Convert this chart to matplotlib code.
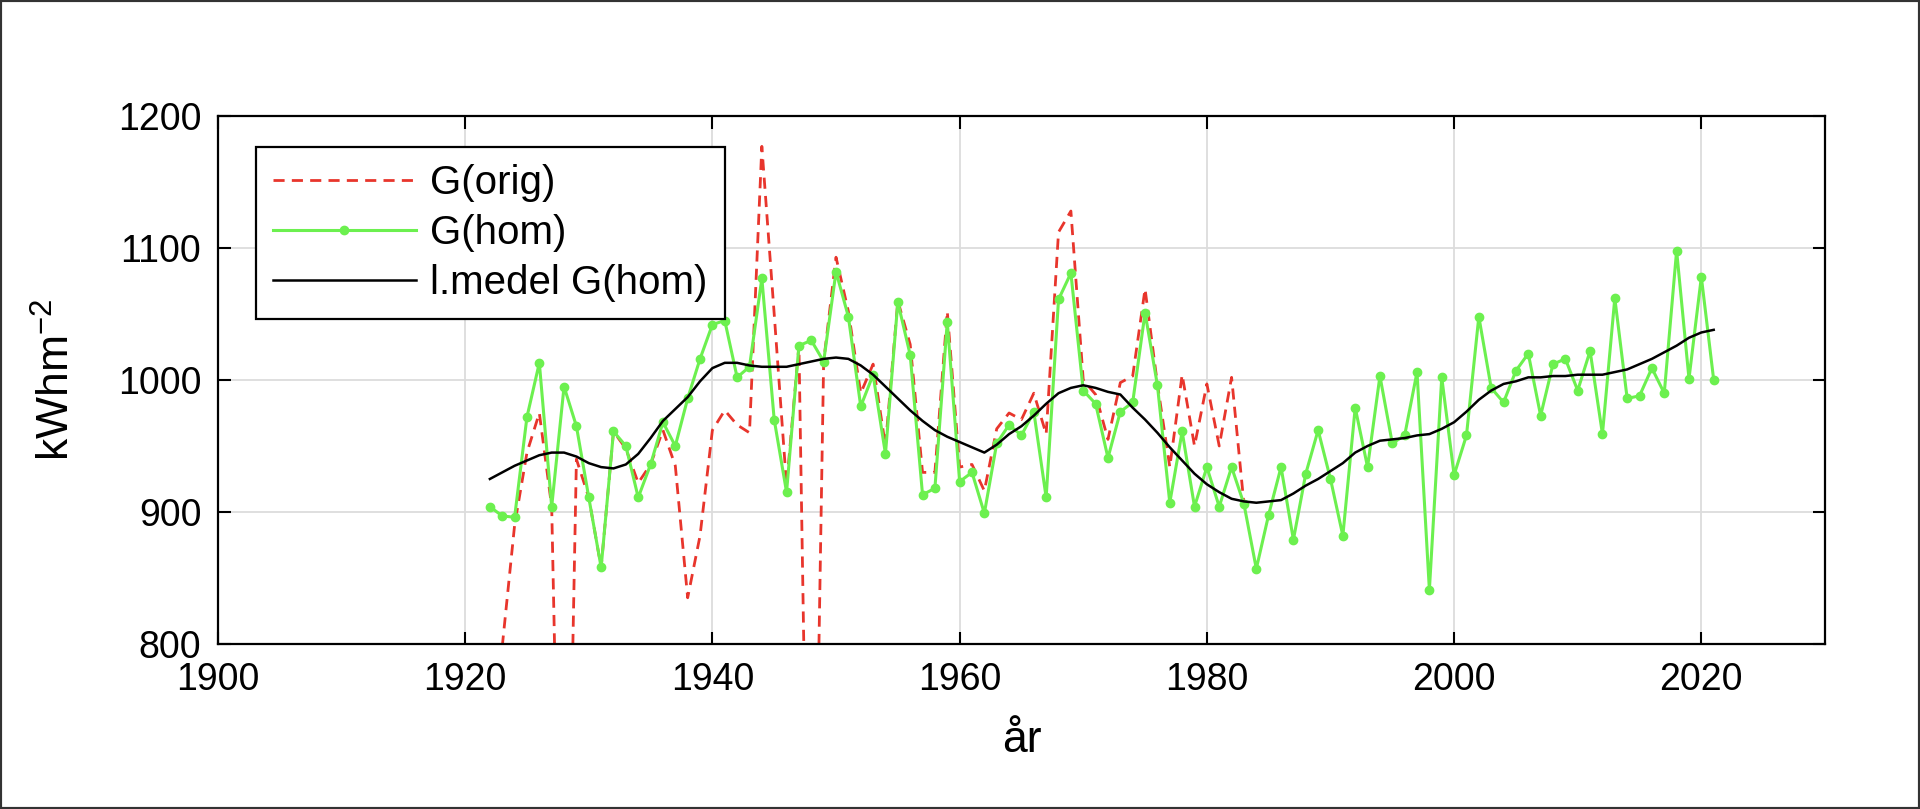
import matplotlib
matplotlib.use('Agg')
import matplotlib.pyplot as plt
import numpy as np

plt.rcParams['font.family'] = ['Liberation Sans', 'DejaVu Sans']

# homogenised series, 1922-2021
years_hom = np.arange(1922, 2022)
g_hom = [904, 897, 896, 972, 1013, 904, 995, 965, 911, 858,
         961, 950, 911, 936, 968, 950, 986, 1016, 1042, 1045,
         1002, 1010, 1077, 970, 915, 1026, 1030, 1014, 1082, 1048,
         980, 1004, 944, 1059, 1019, 913, 918, 1044, 923, 930,
         899, 952, 966, 958, 976, 911, 1061, 1081, 992, 982,
         941, 976, 983, 1051, 996, 907, 961, 904, 934, 904,
         934, 906, 857, 898, 934, 879, 929, 962, 925, 882,
         979, 934, 1003, 952, 958, 1006, 841, 1002, 928, 958,
         1048, 994, 983, 1007, 1020, 973, 1012, 1016, 992, 1022,
         959, 1062, 986, 988, 1009, 990, 1098, 1001, 1078, 1000]

# running mean of the homogenised series
g_mean = [925, 930, 935, 939, 943, 945, 945, 942, 937, 934,
          933, 936, 944, 956, 969, 978, 987, 999, 1009, 1013,
          1013, 1011, 1010, 1010, 1010, 1012, 1014, 1016, 1017, 1016,
          1011, 1004, 995, 986, 977, 969, 962, 957, 953, 949,
          945, 951, 959, 965, 973, 982, 990, 994, 996, 994,
          991, 989, 979, 970, 960, 949, 939, 929, 921, 915,
          910, 908, 907, 908, 909, 914, 920, 925, 931, 937,
          945, 950, 954, 955, 956, 958, 959, 963, 968, 976,
          985, 992, 997, 999, 1002, 1002, 1003, 1003, 1004, 1004,
          1004, 1006, 1008, 1012, 1016, 1021, 1026, 1032, 1036, 1038]

# original series where it differs from the homogenised one, 1923-1983
years_orig = np.arange(1923, 1984)
g_orig = [798, 890, 945, 975, 904, 450, 940, 911, 858, 961,
          948, 922, 936, 962, 935, 835, 882, 962, 977, 966,
          960, 1177, 1050, 920, 1026, 450, 1014, 1093, 1052, 990,
          1012, 950, 1060, 1027, 930, 930, 1052, 934, 936, 916,
          963, 975, 970, 990, 959, 1112, 1128, 1000, 989, 955,
          998, 1003, 1069, 997, 934, 1004, 950, 997, 950, 1002,
          906]

fig = plt.figure(figsize=(19.2, 8.09), dpi=100)
ax = fig.add_axes([0.1135, 0.204, 0.837, 0.6526])

ax.plot(years_orig, g_orig, color='#e8352c', linestyle=(0, (4, 2.6)), linewidth=2.0, label='G(orig)')
ax.plot(years_hom, g_hom, color='#6cf04f', linewidth=2.2, marker='o', markersize=6, label='G(hom)')
ax.plot(years_hom, g_mean, color='black', linewidth=1.8, label='l.medel G(hom)')

ax.set_xlim(1900, 2030)
ax.set_ylim(800, 1200)
ax.set_xticks(np.arange(1900, 2030, 20))
ax.set_yticks(np.arange(800, 1201, 100))
ax.grid(True, color='#dcdcdc', linewidth=1.3)
ax.set_axisbelow(True)
ax.tick_params(direction='in', length=9, width=1.5, top=True, right=True, labelsize=27)
ax.tick_params(axis='x', pad=13)
ax.tick_params(axis='y', pad=12)
for s in ax.spines.values():
    s.set_linewidth(1.6)

ax.set_xlabel('år', fontsize=32, labelpad=16)
ax.set_ylabel('kWhm$^{\\mathregular{-2}}$', fontsize=32, labelpad=28)

leg = ax.legend(loc='upper left', bbox_to_anchor=(0.0236, 0.941), fontsize=29, fancybox=False,
                framealpha=1, edgecolor='black', handlelength=3.55, handletextpad=0.36,
                labelspacing=0.3, borderpad=0.42, borderaxespad=0)
leg.get_frame().set_linewidth(1.6)

# dark frame around the whole picture
fig.patches.append(plt.Rectangle((0, 0), 1, 1, transform=fig.transFigure, fill=False,
                                 edgecolor='#333333', linewidth=3))

plt.savefig('out.png', dpi=100)
